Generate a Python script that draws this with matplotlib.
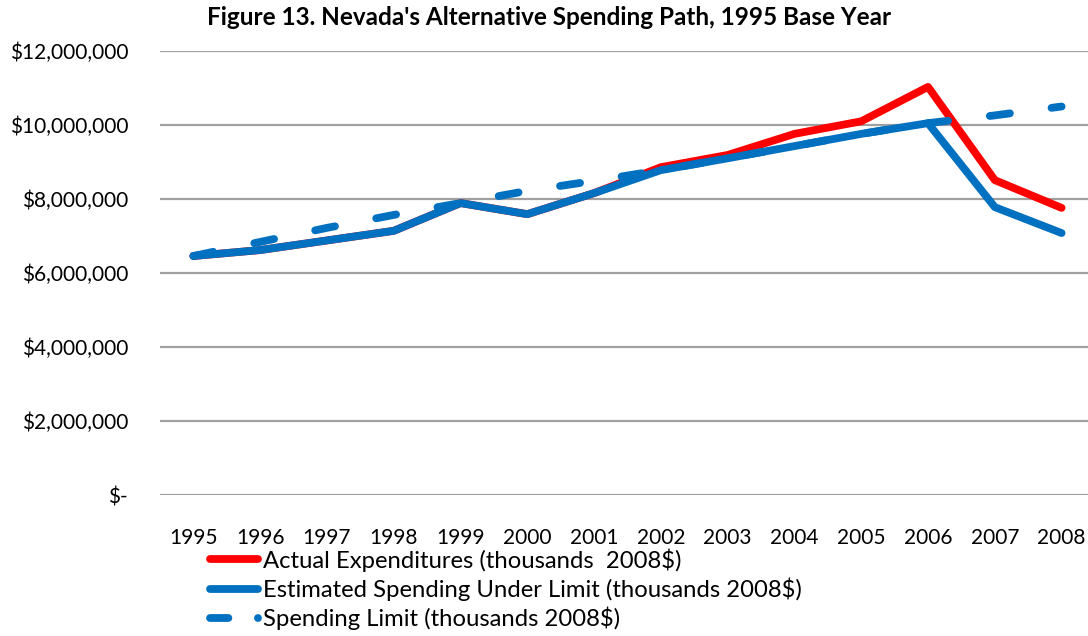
import matplotlib.pyplot as plt
from matplotlib.lines import Line2D
from matplotlib.ticker import FuncFormatter

plt.rcParams['font.family'] = ['Lato', 'DejaVu Sans']

# data (dollars)
years = ['1995', '1996', '1997', '1998', '1999', '2000', '2001',
         '2002', '2003', '2004', '2005', '2006', '2007', '2008']
actual = [6.46e6, 6.62e6, 6.88e6, 7.14e6, 7.89e6, 7.59e6, 8.16e6,
          8.86e6, 9.19e6, 9.76e6, 10.10e6, 11.03e6, 8.51e6, 7.76e6]
estimated = [6.46e6, 6.62e6, 6.88e6, 7.14e6, 7.89e6, 7.59e6, 8.16e6,
             8.78e6, 9.10e6, 9.43e6, 9.76e6, 10.05e6, 7.78e6, 7.08e6]
limit = [6.46e6, 6.84e6, 7.22e6, 7.57e6, 7.89e6, 8.22e6, 8.49e6,
         8.78e6, 9.10e6, 9.43e6, 9.76e6, 10.05e6, 10.26e6, 10.50e6]

labels = ['Actual Expenditures (thousands  2008$)',
          'Estimated Spending Under Limit (thousands 2008$)',
          'Spending Limit (thousands 2008$)']

red = '#ff0000'
blue = '#0070c0'
grid_col = '#a0a0a0'

fig = plt.figure(figsize=(10.88, 6.36), dpi=100)
ax = fig.add_axes([160 / 1088, 1 - 495 / 636, 935 / 1088, 444 / 636])

x = range(len(years))
lw = 5.6
ax.plot(x, actual, color=red, lw=lw, solid_capstyle='round', zorder=3)
ax.plot(x, estimated, color=blue, lw=lw, solid_capstyle='round', zorder=4)
ax.plot(x, limit, color=blue, lw=lw, dashes=(2.6, 5.4),
        dash_capstyle='round', zorder=5)

ax.set_xlim(-0.5, len(years) - 0.5)
ax.set_ylim(0, 12e6)
ax.set_yticks(range(0, 12000001, 2000000))
ax.set_xticks(list(x))
ax.set_xticklabels(years)


def money(v, pos):
    if v == 0:
        return '$-'
    return '${:,.0f}'.format(v)


ax.yaxis.set_major_formatter(FuncFormatter(money))
ax.grid(axis='y', color=grid_col, lw=1.6)
ax.set_axisbelow(True)
for s in ax.spines.values():
    s.set_visible(False)
ax.tick_params(axis='both', length=0, labelsize=15, colors='black')
ax.tick_params(axis='y', pad=23)
ax.tick_params(axis='x', pad=24)

fig.text(0.505, 0.972, "Figure 13. Nevada's Alternative Spending Path, 1995 Base Year",
         ha='center', va='center', fontsize=17.5, fontweight='bold')

handles = [
    Line2D([], [], color=red, lw=lw, solid_capstyle='round'),
    Line2D([], [], color=blue, lw=lw, solid_capstyle='round'),
    Line2D([], [], color=blue, lw=lw, dashes=(2.36, 3.8), dash_capstyle='round'),
]
fig.legend(handles, labels, loc='upper left', bbox_to_anchor=(210 / 1088, 1 - 548 / 636),
           frameon=False, fontsize=17.2, handlelength=2.0, handletextpad=0.2,
           labelspacing=0.25, borderaxespad=0, borderpad=0)

plt.savefig('out.png', dpi=100)
